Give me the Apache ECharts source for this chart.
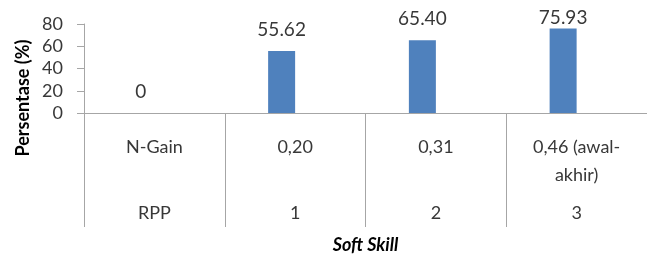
<!DOCTYPE html>
<html>
<head>
<meta charset="utf-8">
<script src="https://cdn.jsdelivr.net/npm/echarts@6/dist/echarts.min.js"></script>
<style>
html,body{margin:0;padding:0;background:#fff;}
#chart{width:647px;height:257px;}
</style>
</head>
<body>
<div id="chart"></div>
<script>
const categories = ['N-Gain', '0,20', '0,31', '0,46 (awal-\nakhir)'];
const rppLabels = ['RPP', '1', '2', '3'];
const values = [0, 55.62, 65.40, 75.93];
const emptySeries = [null, null, null, null];
const yMin = 0, yMax = 80, yInterval = 20;
const yTitle = 'Persentase (%)';
const xTitle = 'Soft Skill';

const FONT = 'Lato';
const TXT = '#383838';
const LINE = '#a6a6a6';

const chart = echarts.init(document.getElementById('chart'), null, {renderer: 'canvas'});
chart.setOption({
  animation: false,
  backgroundColor: '#fff',
  grid: {left: 84, top: 24, right: -12, bottom: 144, containLabel: false},
  xAxis: [
    {
      type: 'category', data: categories, position: 'bottom',
      axisLine: {show: true, lineStyle: {color: LINE, width: 1}},
      axisTick: {show: true, interval: 0, alignWithLabel: false, length: 114, lineStyle: {color: LINE, width: 1}},
      axisLabel: {interval: 0, margin: 20, fontFamily: FONT, fontSize: 18, color: TXT, lineHeight: 28, align: 'center'},
      splitLine: {show: false}
    },
    {
      type: 'category', data: rppLabels, position: 'bottom', gridIndex: 0,
      axisLine: {show: false}, axisTick: {show: false},
      axisLabel: {interval: 0, margin: 90, fontFamily: FONT, fontSize: 18, color: TXT, lineHeight: 20},
      name: xTitle, nameLocation: 'middle', nameGap: 123,
      nameTextStyle: {fontFamily: FONT, fontSize: 18, fontWeight: 'bold', fontStyle: 'italic', color: '#000'}
    }
  ],
  yAxis: {
    type: 'value', min: yMin, max: yMax, interval: yInterval,
    axisLine: {show: true, lineStyle: {color: LINE, width: 1}},
    axisTick: {show: true, length: 7, lineStyle: {color: LINE}},
    axisLabel: {margin: 21, fontFamily: FONT, fontSize: 18, color: TXT},
    splitLine: {show: false}
  },
  graphic: [{
    type: 'text', x: 23, y: 98, rotation: Math.PI / 2,
    style: {text: yTitle, fontFamily: FONT, fontSize: 18, fontWeight: 'bold', fill: '#000', align: 'center', verticalAlign: 'middle'}
  }],
  series: [
    {
      type: 'bar', xAxisIndex: 0,
      data: values.map((v, i) => i === values.length - 1 ? {value: v, label: {distance: 1}} : v),
      barWidth: 27, barGap: '0%',
      itemStyle: {color: '#4F81BD'},
      label: {show: true, position: 'top', distance: 12, fontFamily: FONT, fontSize: 19, color: TXT,
        formatter: p => p.value === 0 ? '0' : p.value.toFixed(2)}
    },
    {
      type: 'bar', xAxisIndex: 0, data: emptySeries, barWidth: 27, barGap: '0%',
      itemStyle: {color: '#C0504D'}
    }
  ]
});
</script>
</body>
</html>
